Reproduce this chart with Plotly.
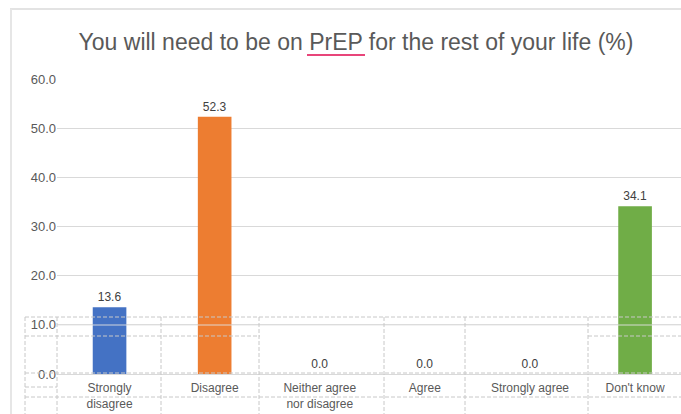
import plotly.graph_objects as go

categories = ["Strongly<br>disagree", "Disagree", "Neither agree<br>nor disagree", "Agree", "Strongly agree", "Don't know"]
values = [13.6, 52.3, 0.0, 0.0, 0.0, 34.1]
colors = ["#4472C4", "#ED7D31", "#A5A5A5", "#FFC000", "#5B9BD5", "#70AD47"]
y_ticks = [0, 10, 20, 30, 40, 50, 60]
title_text = "You will need to be on PrEP for the rest of your life (%)"

W, H = 681, 414
ML, MR, MT, MB = 57, 0, 79, 40
PW, PH = W - ML - MR, H - MT - MB

fig = go.Figure(go.Bar(
    x=list(range(len(categories))),
    y=values,
    marker=dict(color=colors, line=dict(width=0)),
    width=0.32,
    text=[f"{v:.1f}" for v in values],
    textposition="outside",
    cliponaxis=False,
    textfont=dict(family="Liberation Sans, Arial", size=12, color="#404040"),
))

def px(x):
    return (x - ML) / PW

def py(y):
    return (H - MB - y) / PH

shapes = []
# outer frame
shapes.append(dict(type="line", xref="paper", yref="paper", x0=px(10), x1=px(700), y0=py(9), y1=py(9),
                   line=dict(color="#e3e3e3", width=2), layer="above"))
shapes.append(dict(type="line", xref="paper", yref="paper", x0=px(11), x1=px(11), y0=py(9), y1=py(430),
                   line=dict(color="#e6e6e6", width=2), layer="above"))
# spell-check underline
shapes.append(dict(type="line", xref="paper", yref="paper", x0=px(307), x1=px(365), y0=py(55), y1=py(55),
                   line=dict(color="#E8457A", width=2), layer="above"))
# light line at 10 gridline across bars
shapes.append(dict(type="line", xref="paper", yref="paper", x0=px(57), x1=px(700), y0=py(325), y1=py(325),
                   line=dict(color="rgba(225,225,225,0.9)", width=1), layer="above"))
# spreadsheet cell borders (dashed overlay)
dash_col = "#c8c8c8"
dash_pat = "4px,2px"
for xv in [25, 57, 161, 259, 384, 465, 588]:
    shapes.append(dict(type="line", xref="paper", yref="paper", x0=px(xv), x1=px(xv), y0=py(317), y1=py(430),
                       line=dict(color=dash_col, width=1, dash=dash_pat), layer="above"))
for (y, xa, xb) in [(317, 25, 700), (336, 25, 260), (336, 588, 700), (373, 25, 700), (387, 25, 57), (397, 25, 700)]:
    shapes.append(dict(type="line", xref="paper", yref="paper", x0=px(xa), x1=px(xb), y0=py(y), y1=py(y),
                       line=dict(color=dash_col, width=1, dash=dash_pat), layer="above"))

fig.update_layout(
    width=W, height=H,
    margin=dict(l=ML, r=MR, t=MT, b=MB),
    paper_bgcolor="white", plot_bgcolor="white",
    showlegend=False,
    title=dict(text=title_text, x=356 / W, xanchor="center", y=1 - 42 / H, yanchor="middle",
               yref="container", xref="container",
               font=dict(family="Liberation Sans, Arial", size=23, color="#595959")),
    xaxis=dict(
        range=[-0.5, 5.437],
        tickmode="array", tickvals=list(range(len(categories))), ticktext=categories,
        tickfont=dict(family="Liberation Sans, Arial", size=12, color="#595959"),
        ticklabelstandoff=5,
        showgrid=False, zeroline=False, showline=False, ticks="",
    ),
    yaxis=dict(
        range=[0, 60],
        tickmode="array", tickvals=y_ticks, tickformat=".1f",
        tickfont=dict(family="Liberation Sans, Arial", size=13, color="#595959"),
        showgrid=True, gridcolor="#d9d9d9", gridwidth=1,
        zeroline=True, zerolinecolor="#d9d9d9", zerolinewidth=1,
        showline=False, ticks="",
    ),
    shapes=shapes,
)

fig.write_html("out.html", config={"displayModeBar": False},
               post_script="document.body.style.margin='0';document.body.style.padding='0';")
